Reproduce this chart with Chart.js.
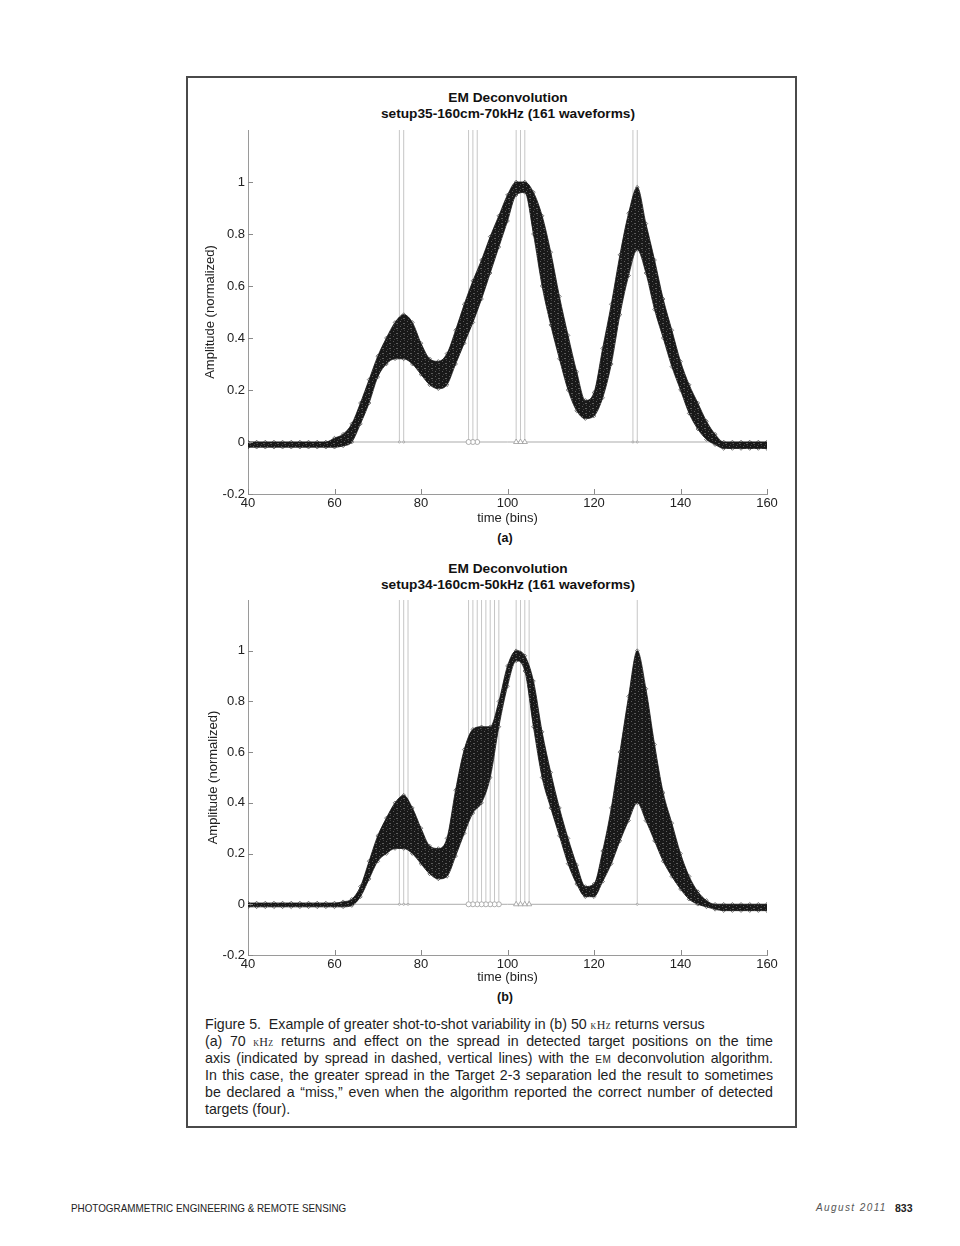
<!DOCTYPE html>
<html>
<head>
<meta charset="utf-8">
<title>EM Deconvolution</title>
<script src="https://cdn.jsdelivr.net/npm/chart.js@4.4.1/dist/chart.umd.min.js"></script>
<style>
  html, body { margin: 0; padding: 0; background: #fff; }
  body { position: relative; width: 960px; height: 1246px; overflow: hidden; font-family: "Liberation Sans", Arial, sans-serif; color: #1a1a1a; }
  .frame { position: absolute; left: 186px; top: 76px; width: 607px; height: 1048px; border: 2px solid #4a4a4a; }
  .ctitle { position: absolute; left: 300px; width: 416px; text-align: center; font-weight: bold; font-size: 13.7px; line-height: 16px; color: #111; }
  .sub { position: absolute; left: 455px; width: 100px; text-align: center; font-weight: bold; font-size: 12.5px; line-height: 16px; color: #111; }
  canvas { position: absolute; }
  .cap { position: absolute; left: 205px; width: 568px; font-size: 14.2px; line-height: 17px; color: #1e1e1e; white-space: nowrap; }
  .cap.j { text-align: justify; text-align-last: justify; }
  .sc { font-family: "Liberation Serif", serif; font-size: 12px; font-variant: small-caps; letter-spacing: 0.3px; }
  .em { font-size: 10px; letter-spacing: 0.4px; }
  .foot { position: absolute; top: 1201px; font-size: 10.5px; line-height: 14px; color: #222; white-space: nowrap; transform-origin: left center; }
</style>
</head>
<body>
<div class="frame"></div>

<div class="ctitle" id="titleA" style="top:90px"></div>
<canvas id="chartA" width="624" height="405" style="left:196px;top:125px;width:624px;height:405px"></canvas>
<div class="sub" style="top:530px">(a)</div>

<div class="ctitle" id="titleB" style="top:561px"></div>
<canvas id="chartB" width="624" height="394" style="left:196px;top:595px;width:624px;height:394px"></canvas>
<div class="sub" style="top:989px">(b)</div>

<div class="cap" style="top:1016px"><span>Figure 5.&nbsp; Example of greater shot-to-shot variability in (b) 50 <span class="sc">kHz</span> returns versus</span></div>
<div class="cap fit" style="top:1033px"><span>(a) 70 <span class="sc">kHz</span> returns and effect on the spread in detected target positions on the time</span></div>
<div class="cap fit" style="top:1050px"><span>axis (indicated by spread in dashed, vertical lines) with the <span class="em">EM</span> deconvolution algorithm.</span></div>
<div class="cap fit" style="top:1067px"><span>In this case, the greater spread in the Target 2-3 separation led the result to sometimes</span></div>
<div class="cap fit" style="top:1084px"><span>be declared a “miss,” even when the algorithm reported the correct number of detected</span></div>
<div class="cap" style="top:1101px"><span>targets (four).</span></div>

<div class="foot" id="footL" style="left:71px">PHOTOGRAMMETRIC ENGINEERING &amp; REMOTE SENSING</div>
<div class="foot" style="left:816px;font-size:10px;font-style:italic;letter-spacing:1.4px;color:#555">August 2011</div>
<div class="foot" style="left:895px;font-weight:bold">833</div>

<script>
// time bins (every 2 bins)
const bins = [40, 42, 44, 46, 48, 50, 52, 54, 56, 58,
              60, 62, 64, 66, 68, 70, 72, 74, 76, 78,
              80, 82, 84, 86, 88, 90, 92, 94, 96, 98,
              100, 102, 104, 106, 108, 110, 112, 114, 116, 118,
              120, 122, 124, 126, 128, 130, 132, 134, 136, 138,
              140, 142, 144, 146, 148, 150, 152, 154, 156, 158,
              160];

// (a) 70 kHz - envelope of the 161 waveforms
const upperA = [0, 0, 0, 0, 0, 0, 0, 0, 0, 0,
                0.015, 0.03, 0.07, 0.15, 0.24, 0.33, 0.40, 0.46, 0.49, 0.46,
                0.38, 0.32, 0.31, 0.34, 0.43, 0.53, 0.62, 0.70, 0.79, 0.87,
                0.95, 1.0, 1.0, 0.96, 0.87, 0.73, 0.56, 0.41, 0.27, 0.16,
                0.19, 0.36, 0.53, 0.72, 0.88, 0.98, 0.84, 0.70, 0.55, 0.43,
                0.31, 0.22, 0.15, 0.08, 0.03, 0, 0, 0, 0, 0,
                0];
const lowerA = [-0.02, -0.02, -0.02, -0.02, -0.02, -0.02, -0.02, -0.02, -0.02, -0.02,
                -0.02, -0.015, 0.0, 0.07, 0.15, 0.25, 0.30, 0.32, 0.32, 0.30,
                0.26, 0.22, 0.205, 0.22, 0.30, 0.38, 0.46, 0.55, 0.65, 0.75,
                0.85, 0.95, 0.96, 0.80, 0.60, 0.45, 0.32, 0.20, 0.12, 0.09,
                0.10, 0.17, 0.30, 0.49, 0.64, 0.74, 0.65, 0.51, 0.40, 0.29,
                0.20, 0.11, 0.05, 0.01, -0.01, -0.025, -0.025, -0.025, -0.025, -0.025,
                -0.025];

// (b) 50 kHz
const upperB = [0.005, 0.005, 0.005, 0.005, 0.005, 0.005, 0.005, 0.005, 0.005, 0.005,
                0.005, 0.01, 0.02, 0.07, 0.17, 0.27, 0.34, 0.40, 0.43, 0.38,
                0.30, 0.23, 0.22, 0.26, 0.45, 0.61, 0.69, 0.70, 0.70, 0.80,
                0.94, 1.0, 0.98, 0.88, 0.68, 0.52, 0.38, 0.26, 0.155, 0.07,
                0.08, 0.21, 0.38, 0.60, 0.82, 1.0, 0.85, 0.63, 0.44, 0.32,
                0.20, 0.11, 0.05, 0.015, 0, 0, 0, 0, 0, 0,
                0];
const lowerB = [-0.01, -0.01, -0.01, -0.01, -0.01, -0.01, -0.01, -0.01, -0.01, -0.01,
                -0.01, -0.01, -0.005, 0.03, 0.10, 0.17, 0.20, 0.22, 0.22, 0.20,
                0.16, 0.12, 0.10, 0.11, 0.19, 0.28, 0.36, 0.40, 0.50, 0.70,
                0.86, 0.96, 0.92, 0.70, 0.50, 0.38, 0.27, 0.16, 0.08, 0.03,
                0.03, 0.09, 0.16, 0.25, 0.33, 0.40, 0.33, 0.25, 0.17, 0.11,
                0.06, 0.02, 0.0, -0.01, -0.02, -0.025, -0.025, -0.025, -0.025, -0.025,
                -0.025];

// detected target positions (vertical lines) and which target each belongs to
const detectA = [75, 76, 91, 92, 93, 102, 103, 104, 129, 130];
const targetA = [1, 1, 2, 2, 2, 3, 3, 3, 4, 4];
const detectB = [75, 76, 77, 91, 92, 93, 94, 95, 96, 97, 98, 102, 103, 104, 105, 130];
const targetB = [1, 1, 1, 2, 2, 2, 2, 2, 2, 2, 2, 3, 3, 3, 3, 4];

const xTicks = [40, 60, 80, 100, 120, 140, 160];
const yTicks = [-0.2, 0, 0.2, 0.4, 0.6, 0.8, 1];

const titleA = ['EM Deconvolution', 'setup35-160cm-70kHz (161 waveforms)'];
const titleB = ['EM Deconvolution', 'setup34-160cm-50kHz (161 waveforms)'];

document.getElementById('titleA').innerHTML = titleA.join('<br>');
document.getElementById('titleB').innerHTML = titleB.join('<br>');

// matlab style ticks pointing into the plot
const inwardTicks = {
    id: 'inwardTicks',
    afterDraw(chart) {
        const { ctx, chartArea } = chart;
        const sx = chart.scales.x, sy = chart.scales.y;
        ctx.save();
        ctx.strokeStyle = '#8a8a8a';
        ctx.lineWidth = 1;
        ctx.beginPath();
        xTicks.forEach(v => {
            const px = Math.round(sx.getPixelForValue(v)) + 0.5;
            ctx.moveTo(px, chartArea.bottom);
            ctx.lineTo(px, chartArea.bottom - 5);
        });
        yTicks.forEach(v => {
            const py = Math.round(sy.getPixelForValue(v)) + 0.5;
            ctx.moveTo(chartArea.left, py);
            ctx.lineTo(chartArea.left + 5, py);
        });
        ctx.stroke();
        ctx.restore();
    }
};

// fill of the waveform bundle: dark with small gaps, like many overlapping dashed lines
function bundlePattern() {
    const c = document.createElement('canvas');
    c.width = 7; c.height = 5;
    const g = c.getContext('2d');
    g.fillStyle = '#181818';
    g.fillRect(0, 0, 7, 5);
    g.fillStyle = 'rgba(150,150,150,0.55)';
    g.fillRect(1, 1, 1, 1);
    g.fillRect(4, 3, 2, 1);
    g.fillStyle = 'rgba(90,90,90,0.6)';
    g.fillRect(5, 0, 1, 1);
    g.fillRect(2, 4, 1, 1);
    return g.createPattern(c, 'repeat');
}

function stemStyle(t) {
    if (t === 2) return { style: 'circle', r: 2.5 };
    if (t === 3) return { style: 'triangle', r: 3 };
    return { style: 'circle', r: 1 };
}

function toPoints(ys) {
    return bins.map((b, i) => ({ x: b, y: ys[i] }));
}

function makeChart(id, upper, lower, detect, target, yTitlePad, xHeight) {
    const edge = {
        borderColor: '#151515',
        borderWidth: 0.8,
        pointStyle: 'rectRot',
        pointRadius: 1.8,
        pointBorderWidth: 0.6,
        pointBorderColor: '#222',
        pointBackgroundColor: 'rgba(255,255,255,0)',
        cubicInterpolationMode: 'monotone',
        order: 0
    };
    const datasets = [
        Object.assign({ data: toPoints(upper), fill: '+1', backgroundColor: bundlePattern() }, edge),
        Object.assign({ data: toPoints(lower), fill: false }, edge),
        { data: [{ x: 40, y: 0 }, { x: 160, y: 0 }], borderColor: '#ababab', borderWidth: 1, pointRadius: 0, fill: false, order: 2 }
    ];
    detect.forEach((d, i) => {
        const s = stemStyle(target[i]);
        datasets.push({
            data: [{ x: d, y: 0 }, { x: d, y: 1.2 }],
            borderColor: '#c6c6c6',
            borderWidth: 1,
            fill: false,
            pointStyle: s.style,
            pointRadius: [s.r, 0],
            pointBorderColor: '#9a9a9a',
            pointBackgroundColor: '#fff',
            pointBorderWidth: 0.8,
            order: 1
        });
    });

    const tickFont = { family: 'Liberation Sans', size: 13 };
    return new Chart(document.getElementById(id), {
        type: 'line',
        data: { datasets },
        options: {
            responsive: false,
            animation: false,
            layout: { padding: { top: 5, right: 53, left: 0, bottom: 0 } },
            plugins: {
                legend: { display: false },
                tooltip: { enabled: false }
            },
            scales: {
                x: {
                    type: 'linear',
                    min: 40,
                    max: 160,
                    afterBuildTicks: s => { s.ticks = xTicks.map(v => ({ value: v })); },
                    afterFit: s => { s.height = xHeight; s.paddingLeft = 0; s.paddingRight = 0; },
                    grid: { display: false, drawTicks: false },
                    border: { display: true, color: '#9a9a9a', width: 1 },
                    ticks: { color: '#222', font: tickFont, padding: 2, maxRotation: 0 },
                    title: { display: true, text: 'time (bins)', color: '#222', font: tickFont, padding: { top: 0, bottom: 4 } }
                },
                y: {
                    min: -0.2,
                    max: 1.2,
                    afterBuildTicks: s => { s.ticks = yTicks.map(v => ({ value: v })); },
                    afterFit: s => { s.width = 52; s.paddingTop = 0; s.paddingBottom = 0; },
                    grid: { display: false, drawTicks: false },
                    border: { display: true, color: '#9a9a9a', width: 1 },
                    ticks: { color: '#222', font: tickFont, padding: 3, callback: v => String(+v.toFixed(1)) },
                    title: { display: true, text: 'Amplitude (normalized)', color: '#222', font: tickFont, padding: { top: yTitlePad, bottom: 0 } }
                }
            }
        },
        plugins: [inwardTicks]
    });
}

makeChart('chartA', upperA, lowerA, detectA, targetA, 7, 36);
makeChart('chartB', upperB, lowerB, detectB, targetB, 10, 34);

// caption lines 2-5 are justified to the column; tighten any that run long
document.querySelectorAll('.cap.fit').forEach(el => {
    const w = el.firstElementChild.getBoundingClientRect().width;
    if (w > 568) {
        el.style.letterSpacing = ((568 - w) / el.textContent.length).toFixed(3) + 'px';
    }
    el.classList.add('j');
});

// squeeze the running head to the width it takes on the page
const footL = document.getElementById('footL');
footL.style.transform = 'scaleX(' + (275 / footL.scrollWidth) + ')';
</script>
</body>
</html>
